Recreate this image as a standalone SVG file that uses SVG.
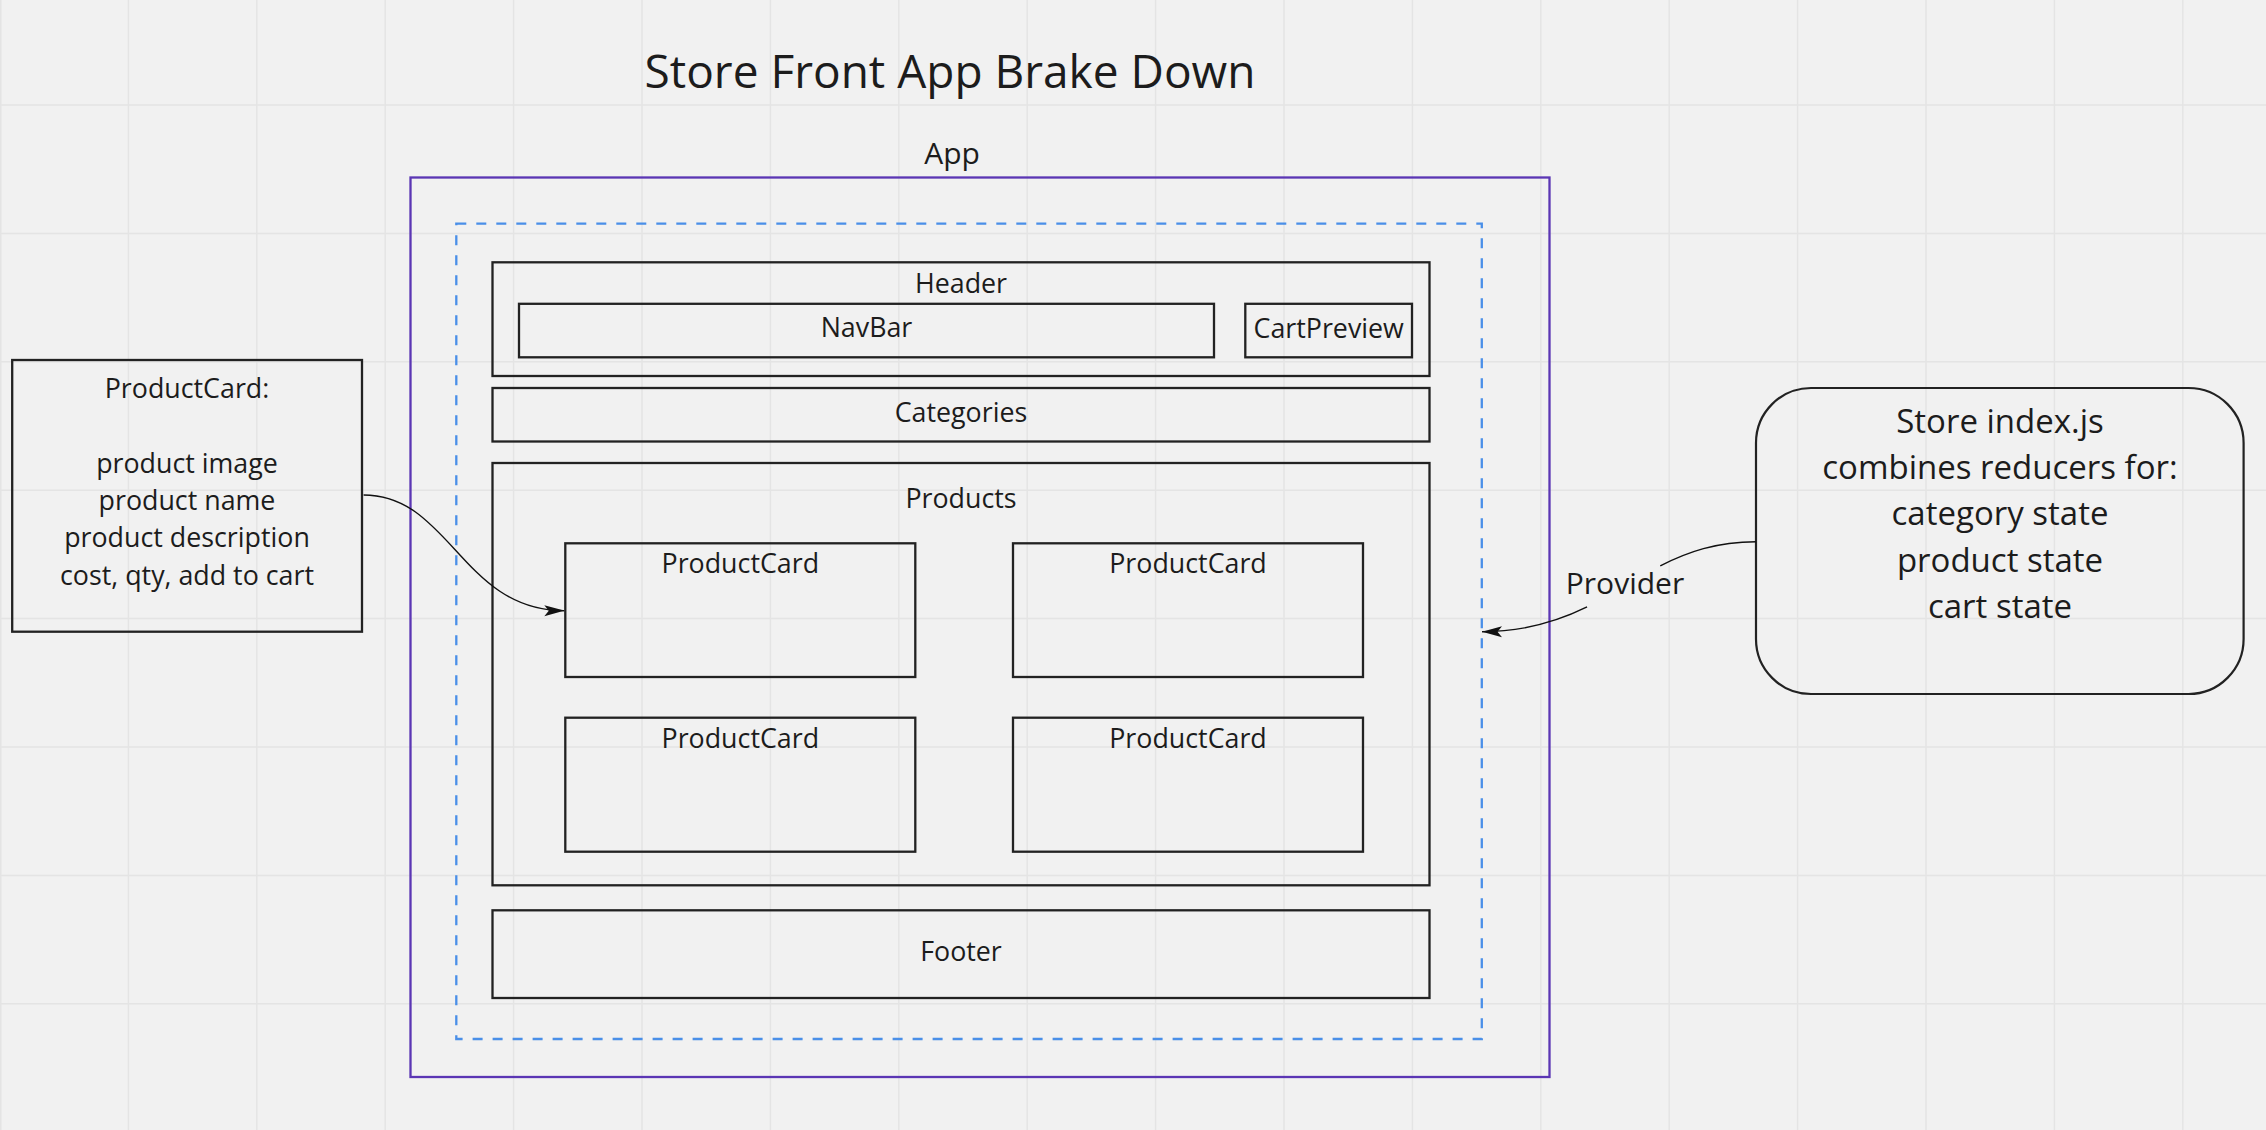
<svg xmlns="http://www.w3.org/2000/svg" width="2266" height="1130" viewBox="0 0 2266 1130">
  <style>
    text { font-family: "Open Sans", "Liberation Sans", sans-serif; fill: #1c1c1c; }
    .lbl { font-size: 26.8px; text-anchor: middle; }
    .box { fill: none; stroke: #222222; stroke-width: 2.3; }
    .grid { fill: none; stroke: #e4e4e4; stroke-width: 1.5; }
    .conn { fill: none; stroke: #111111; stroke-width: 1.4; }
  </style>
  <defs>
    <marker id="arrow" markerUnits="userSpaceOnUse" viewBox="0 0 20 12" refX="20" refY="6" markerWidth="20" markerHeight="12" orient="auto">
      <path d="M0,0.5 L20,6 L0,11.5 L4.5,6 Z" fill="#111111"/>
    </marker>
  </defs>

  <rect x="0" y="0" width="2266" height="1130" fill="#f1f1f1"/>
  <path class="grid" d="M0.75,0V1130 M128.4,0V1130 M256.8,0V1130 M385.2,0V1130 M513.6,0V1130 M642,0V1130 M770.4,0V1130 M898.8,0V1130 M1027.2,0V1130 M1155.6,0V1130 M1284,0V1130 M1412.4,0V1130 M1540.8,0V1130 M1669.2,0V1130 M1797.6,0V1130 M1926,0V1130 M2054.4,0V1130 M2182.8,0V1130 M0,105H2266 M0,233.4H2266 M0,361.8H2266 M0,490.2H2266 M0,618.6H2266 M0,747H2266 M0,875.4H2266 M0,1003.8H2266"/>

  <g id="title">
    <text x="950" y="88.3" style="font-size:46px;text-anchor:middle">Store Front App Brake Down</text>
  </g>

  <g id="app">
    <rect x="410.5" y="177.5" width="1139" height="899.5" fill="none" stroke="#5b36b4" stroke-width="2.3"/>
    <text x="952" y="164" style="font-size:30px;text-anchor:middle">App</text>
  </g>

  <g id="provider-area">
    <rect x="456.3" y="223.7" width="1025.5" height="815.3" fill="none" stroke="#4a8fe8" stroke-width="2.3" stroke-dasharray="10 10"/>
  </g>

  <g id="header">
    <rect class="box" x="492.5" y="262.3" width="937" height="113.7"/>
    <text class="lbl" x="961" y="292.7">Header</text>
  </g>

  <g id="navbar">
    <rect class="box" x="519" y="303.8" width="695" height="53.5"/>
    <text class="lbl" x="866.5" y="336.7">NavBar</text>
  </g>

  <g id="cartpreview">
    <rect class="box" x="1245.3" y="303.8" width="166.7" height="53.5"/>
    <text class="lbl" x="1328.7" y="337.5">CartPreview</text>
  </g>

  <g id="categories">
    <rect class="box" x="492.5" y="388" width="937" height="53.5"/>
    <text class="lbl" x="961" y="422.3">Categories</text>
  </g>

  <g id="products">
    <rect class="box" x="492.5" y="463" width="937" height="422.3"/>
    <text class="lbl" x="961" y="508.3">Products</text>
  </g>

  <g id="productcard-1">
    <rect class="box" x="565.3" y="543.3" width="350" height="133.7"/>
    <text class="lbl" x="740.3" y="573.3">ProductCard</text>
  </g>
  <g id="productcard-2">
    <rect class="box" x="1013" y="543.3" width="350" height="133.7"/>
    <text class="lbl" x="1188" y="573.3">ProductCard</text>
  </g>
  <g id="productcard-3">
    <rect class="box" x="565.3" y="717.7" width="350" height="134"/>
    <text class="lbl" x="740.3" y="748.3">ProductCard</text>
  </g>
  <g id="productcard-4">
    <rect class="box" x="1013" y="717.7" width="350" height="134"/>
    <text class="lbl" x="1188" y="748.3">ProductCard</text>
  </g>

  <g id="footer">
    <rect class="box" x="492.5" y="910.3" width="937" height="87.7"/>
    <text class="lbl" x="961" y="960.7">Footer</text>
  </g>

  <g id="productcard-note">
    <rect class="box" x="12.2" y="360" width="349.8" height="271.7"/>
    <text class="lbl" x="187" y="398">ProductCard:</text>
    <text class="lbl" x="187" y="472.6">product image</text>
    <text class="lbl" x="187" y="509.9">product name</text>
    <text class="lbl" x="187" y="547.2">product description</text>
    <text class="lbl" x="187" y="584.5">cost, qty, add to cart</text>
  </g>

  <g id="store">
    <rect x="1756" y="388" width="487.6" height="306" rx="55" ry="55" fill="none" stroke="#222222" stroke-width="2.2"/>
    <g style="font-size:33px;text-anchor:middle">
      <text x="2000" y="433">Store index.js</text>
      <text x="2000" y="479.2">combines reducers for:</text>
      <text x="2000" y="525.4">category state</text>
      <text x="2000" y="571.6">product state</text>
      <text x="2000" y="617.8">cart state</text>
    </g>
  </g>

  <g id="connectors">
    <path class="conn" d="M363.6,495 C450,495 462,610.7 564.3,610.7" marker-end="url(#arrow)"/>
    <path class="conn" d="M1756,541.7 C1716.56,541.7 1687.06,552.1 1660.27,565.84"/>
    <path class="conn" d="M1587.05,606.96 C1558.66,620.99 1526.16,631.7 1482,631.7" marker-end="url(#arrow)"/>
    <text x="1625" y="594" style="font-size:30px;text-anchor:middle">Provider</text>
  </g>
</svg>
